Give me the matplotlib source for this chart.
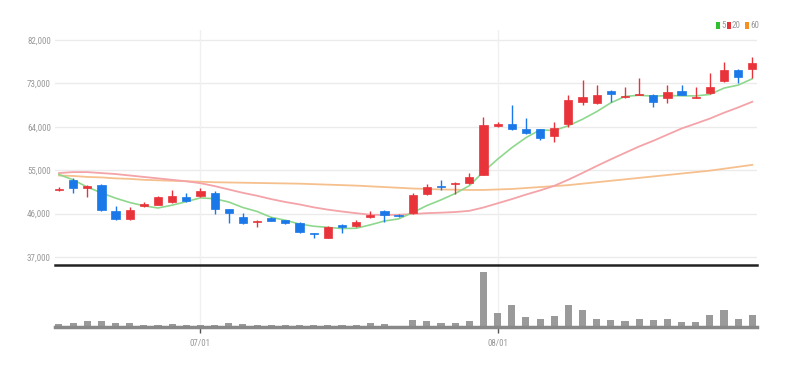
import matplotlib
matplotlib.use("Agg")
import matplotlib.pyplot as plt
from matplotlib import font_manager
from matplotlib.patches import Rectangle
import numpy as np
import pandas as pd

# ---------------- data ----------------
opens = [50800, 53000, 51400, 52000, 46500, 44900, 47600, 47800, 48300, 49400,
         49700, 50300, 46900, 45200, 44300, 45100, 44600, 44000, 41900, 41000,
         43700, 43400, 45300, 46600, 45800, 46100, 50000, 51800, 52200, 52400,
         54000, 64200, 64600, 63500, 63500, 62000, 64500, 69200, 69000, 71400,
         70100, 70600, 70600, 70000, 71400, 70000, 71000, 73500, 75800, 76000]
closes = [51200, 51300, 51800, 46800, 44900, 46700, 47900, 49500, 49700, 48600,
          50600, 47000, 46100, 44000, 44500, 44500, 44000, 42200, 41700, 43300,
          43300, 44300, 45700, 45700, 45500, 49900, 51500, 51600, 52300, 53600,
          64400, 64500, 63500, 62700, 61700, 63700, 69500, 70200, 70600, 70800,
          70300, 70800, 69200, 71200, 70600, 70200, 72300, 75800, 74300, 77200]
highs = [51600, 53300, 52000, 52200, 47500, 47300, 48400, 49700, 50900, 50300,
         51300, 50600, 47000, 46100, 44700, 45300, 44700, 44200, 42000, 43500,
         43800, 44700, 46500, 46700, 46000, 50300, 52200, 53000, 52600, 54500,
         66000, 65000, 68500, 65800, 63600, 65000, 70500, 73700, 72700, 71600,
         72300, 74100, 70700, 72700, 72700, 72300, 75200, 77500, 76000, 78500]
lows = [50600, 50300, 49500, 46500, 44700, 44700, 47400, 47700, 48100, 48500,
        49500, 46000, 44000, 43900, 43300, 44400, 43800, 41900, 40900, 40900,
        42000, 43200, 45000, 44300, 45200, 46000, 49800, 50900, 50000, 52200,
        53900, 64000, 63400, 62500, 61200, 60900, 64000, 68500, 68800, 69100,
        70000, 70500, 68100, 68900, 70500, 70000, 70800, 73300, 73100, 74100]
volumes = [8, 12, 17, 18, 13, 12, 5, 5, 8, 5,
           6, 7, 12, 8, 5, 5, 5, 5, 7, 7,
           5, 5, 12, 8, 2, 22, 18, 12, 12, 18,
           165, 43, 65, 30, 25, 33, 65, 50, 25, 20,
           18, 25, 20, 25, 15, 15, 35, 50, 25, 35]
prev_closes = [56800, 59300, 52800, 50400]
ma20 = [54400, 54600, 54600, 54400, 54200, 53900, 53600, 53300, 53000, 52700,
        52300, 51700, 51000, 50300, 49700, 49000, 48400, 47900, 47300, 46820,
        46430, 46080, 45770, 45720, 45750, 45910, 46090, 46190, 46320, 46570,
        47260, 48130, 49000, 49940, 50800, 51760, 53030, 54420, 55860, 57250,
        58590, 59910, 61090, 62370, 63640, 64660, 65700, 66910, 68010, 69190]
ma60 = [53900, 53800, 53600, 53500, 53300, 53200, 53000, 52900, 52800, 52700,
        52600, 52500, 52450, 52400, 52350, 52300, 52250, 52200, 52100, 52000,
        51900, 51800, 51650, 51500, 51350, 51200, 51100, 51000, 50950, 50900,
        50900, 51000, 51100, 51300, 51500, 51700, 51900, 52200, 52500, 52800,
        53100, 53400, 53700, 54000, 54300, 54600, 54900, 55300, 55700, 56100]
xtick_idx = [10, 31]
xtick_labels = ["07/01", "08/01"]
yticks = [37000, 46000, 55000, 64000, 73000, 82000]
legend_labels = ["5", "20", "60"]

# ---------------- style ----------------
avail = {f.name for f in font_manager.fontManager.ttflist}
fam = None
for cand in ["Liberation Sans Narrow", "Roboto Condensed", "Liberation Sans"]:
    if cand in avail:
        fam = cand
        break
if fam is None:
    fam = "DejaVu Sans"
plt.rcParams['font.family'] = [fam, 'DejaVu Sans']
FS = 6.5 if fam != "Liberation Sans Narrow" else 7.5

UP = "#e8333a"
DOWN = "#1a78e8"
C5 = "#8ed88e"
C20 = "#f4a3a8"
C60 = "#f6c08e"
TXT = "#999999"

W, H = 788, 367
fig = plt.figure(figsize=(W / 100, H / 100), dpi=100)

def axrect(x0, y0, x1, y1):
    return [x0 / W, 1 - y1 / H, (x1 - x0) / W, (y1 - y0) / H]

ax = fig.add_axes(axrect(55, 30.3, 757, 265))
axv = fig.add_axes(axrect(55, 265, 757, 327), sharex=ax)

n = len(closes)
x = np.arange(n)
xlim = (-0.28, 49.33)

# moving average 5 from closes
allc = pd.Series(prev_closes + closes)
ma5 = allc.rolling(5).mean().to_numpy()[len(prev_closes):]

# grid
for yv in yticks:
    ax.axhline(yv, color="#ebebeb", lw=1, zorder=0)
for xi in xtick_idx:
    ax.axvline(xi, color="#f0f0f0", lw=1, zorder=0)

# moving averages
ax.plot(x, ma60, color=C60, lw=1.3, zorder=1)
ax.plot(x, ma20, color=C20, lw=1.3, zorder=1)
ax.plot(x, ma5, color=C5, lw=1.2, zorder=1)

# candles
bw = 0.58
for i in range(n):
    o, c, h, l = opens[i], closes[i], highs[i], lows[i]
    col = UP if c >= o else DOWN
    ax.vlines(i, l, h, color=col, lw=1, zorder=2)
    bottom = min(o, c)
    height = max(abs(c - o), 180)
    ax.add_patch(Rectangle((i - bw / 2, bottom), bw, height, facecolor=col,
                           edgecolor=col, lw=0.5, zorder=3))

ax.set_ylim(35340, 84000)
ax.set_xlim(*xlim)
ax.set_yticks(yticks)
ax.set_yticklabels([f"{v:,}" for v in yticks])
ax.tick_params(axis='y', length=0, pad=3, labelsize=FS, labelcolor=TXT)
ax.tick_params(axis='x', length=0, labelbottom=False)
for s in ax.spines.values():
    s.set_visible(False)

# volume
axv.bar(x, volumes, width=0.5, color="#9a9a9a", zorder=2)
for xi in xtick_idx:
    axv.axvline(xi, color="#f0f0f0", lw=1, zorder=0)
axv.set_ylim(0, 186)
axv.set_yticks([])
axv.set_xticks(xtick_idx)
axv.set_xticklabels(xtick_labels)
axv.tick_params(axis='x', length=4, width=1, color="#555555", pad=5,
                labelsize=FS, labelcolor=TXT)
for k in ['left', 'right']:
    axv.spines[k].set_visible(False)
axv.spines['top'].set_color("#222222")
axv.spines['top'].set_linewidth(1.8)
axv.spines['bottom'].set_color("#888888")
axv.spines['bottom'].set_linewidth(2.5)

# legend (top right)
leg_x = [716, 727, 745]
leg_cols = ["#2fbf2f", UP, "#f39020"]
for lx, lc, lt in zip(leg_x, leg_cols, legend_labels):
    fig.patches.append(Rectangle((lx / W, 1 - 29 / H), 3.5 / W, 7 / H,
                                 transform=fig.transFigure, facecolor=lc,
                                 edgecolor='none'))
    fig.text((lx + 5) / W, 1 - 25.5 / H, lt, fontsize=FS, color=TXT,
             va='center', ha='left')

fig.savefig("out.png", dpi=100)
